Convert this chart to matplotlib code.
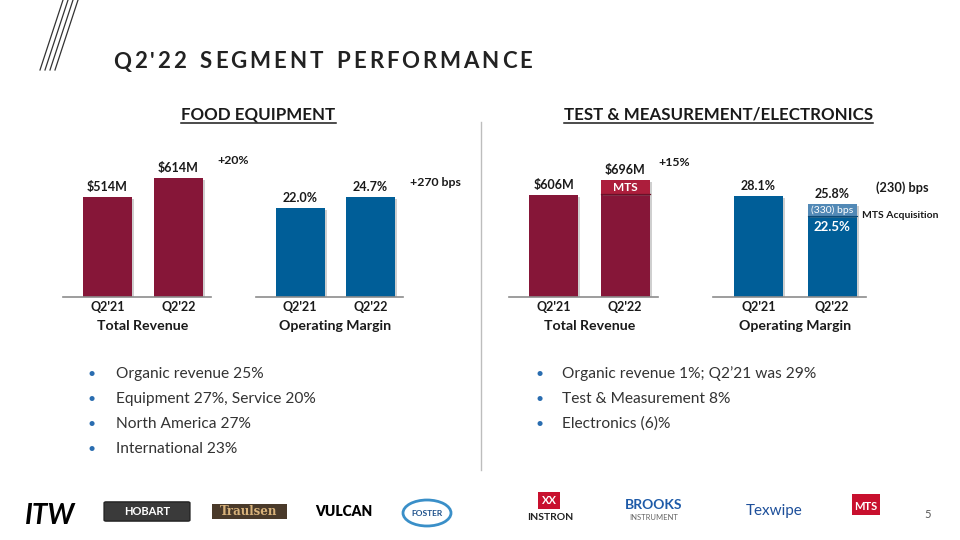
import matplotlib
matplotlib.use("Agg")
import matplotlib.pyplot as plt
from matplotlib import patheffects as pe
from matplotlib.patches import FancyBboxPatch, Ellipse, Rectangle
from matplotlib.lines import Line2D

plt.rcParams['font.family'] = ['Lato', 'DejaVu Sans']

# ---- data ----
quarters = ["Q2'21", "Q2'22"]
food_revenue = [514, 614]          # $M
food_margin = [22.0, 24.7]         # %
tm_revenue = [606, 696]            # $M
tm_revenue_mts = [0, 84]           # $M contributed by MTS acquisition
tm_margin = [28.1, 25.8]           # %
tm_margin_mts_bps = [0, 330]       # dilution from MTS acquisition

food_bullets = ["Organic revenue 25%", "Equipment 27%, Service 20%",
                "North America 27%", "International 23%"]
tm_bullets = ["Organic revenue 1%; Q2\u201921 was 29%", "Test & Measurement 8%",
              "Electronics (6)%"]

MAROON = '#861638'
MTS_RED = '#AC1E3C'
BLUE = '#005E98'
LIGHT_BLUE = '#5289B6'
TXT = '#1a1a1a'

W, H = 960, 540
fig = plt.figure(figsize=(9.6, 5.4), dpi=100)


def fx(x):
    return x / W


def fy(y):
    return 1 - y / H


def ftext(x, y, s, **kw):
    kw.setdefault('color', TXT)
    kw.setdefault('va', 'center')
    return fig.text(fx(x), fy(y), s, **kw)


shadow = [pe.SimplePatchShadow(offset=(1.5, -1.5), shadow_rgbFace='#777777', alpha=0.35), pe.Normal()]

BASE = 297   # baseline pixel row
TOP = 150    # axes top pixel row


def make_axes(c0, c1, ymax_val, tallest_px):
    unit = c1 - c0
    left = c0 - 0.62 * unit
    width = 2.08 * unit
    ax = fig.add_axes([fx(left), fy(BASE), width / W, (BASE - TOP) / H])
    ax.set_xlim(-0.62, 1.46)
    ax.set_ylim(0, ymax_val * (BASE - TOP) / tallest_px)
    for s in ['top', 'right', 'left']:
        ax.spines[s].set_visible(False)
    ax.spines['bottom'].set_color('#8c8c8c')
    ax.spines['bottom'].set_linewidth(1.2)
    ax.set_yticks([])
    ax.set_xticks([0, 1])
    ax.set_xticklabels(quarters, fontsize=9, fontweight='bold', color=TXT)
    ax.tick_params(axis='x', length=0, pad=3)
    ax.patch.set_alpha(0)
    return ax, 49 / unit


def value_labels(ax, values, fmt):
    for i, v in enumerate(values):
        ax.annotate(fmt(v), (i, v), xytext=(0, 3), textcoords='offset points',
                    ha='center', va='bottom', fontsize=9, fontweight='bold', color=TXT)


def category_label(ax, s):
    ax.annotate(s, (0.5, 0), xycoords=('data', 'axes fraction'), xytext=(0, -21),
                textcoords='offset points', ha='center', va='center',
                fontsize=10.2, fontweight='bold', color=TXT)


x = [0, 1]
rev_fmt = lambda v: f"${v:.0f}M"
pct_fmt = lambda v: f"{v:.1f}%"

# Food Equipment - revenue
ax1, bw = make_axes(107.5, 178.5, max(food_revenue), 119)
bars = ax1.bar(x, food_revenue, width=bw, color=MAROON)
for b in bars:
    b.set_path_effects(shadow)
value_labels(ax1, food_revenue, rev_fmt)
category_label(ax1, 'Total Revenue')

# Food Equipment - margin
ax2, bw = make_axes(300, 370.5, max(food_margin), 100)
bars = ax2.bar(x, food_margin, width=bw, color=BLUE)
for b in bars:
    b.set_path_effects(shadow)
value_labels(ax2, food_margin, pct_fmt)
category_label(ax2, 'Operating Margin')

# T&M - revenue
ax3, bw = make_axes(553.5, 625, max(tm_revenue), 117)
organic = [t - m for t, m in zip(tm_revenue, tm_revenue_mts)]
bars = ax3.bar(x, organic, width=bw, color=MAROON)
for b in bars:
    b.set_path_effects(shadow)
bars = ax3.bar(x, tm_revenue_mts, bottom=organic, width=bw, color=MTS_RED)
for b in bars:
    b.set_path_effects(shadow)
ax3.plot([1 - bw / 2, 1 + bw / 2], [organic[1], organic[1]], color='#6a1028', lw=0.9)
ax3.text(1, organic[1] + tm_revenue_mts[1] / 2, 'MTS', ha='center', va='center',
         color='white', fontsize=8.5, fontweight='bold')
value_labels(ax3, tm_revenue, rev_fmt)
category_label(ax3, 'Total Revenue')

# T&M - margin
ax4, bw = make_axes(758.5, 832, max(tm_margin), 101)
mts_pts = [b / 100 for b in tm_margin_mts_bps]
core = [m - d for m, d in zip(tm_margin, mts_pts)]
bars = ax4.bar(x, core, width=bw, color=BLUE)
for b in bars:
    b.set_path_effects(shadow)
bars = ax4.bar(x, mts_pts, bottom=core, width=bw, color=LIGHT_BLUE)
for b in bars:
    b.set_path_effects(shadow)
ax4.plot([1 - bw / 2, 1 + bw / 2], [core[1], core[1]], color='#0b4a78', lw=0.8)
ax4.text(1, core[1] + mts_pts[1] / 2, f"({tm_margin_mts_bps[1]}) bps", ha='center', va='center',
         color='white', fontsize=7.5)
ax4.annotate(pct_fmt(core[1]), (1, core[1]), xytext=(0, -8), textcoords='offset points',
             ha='center', va='center', color='white', fontsize=9.5, fontweight='bold')
value_labels(ax4, tm_margin, pct_fmt)
category_label(ax4, 'Operating Margin')

# change annotations
ftext(217, 161, '+20%', fontsize=8.8, fontweight='bold')
ftext(410, 183, '+270 bps', fontsize=8.8, fontweight='bold')
ftext(658, 162, '+15%', fontsize=8.8, fontweight='bold')
ftext(876, 188, '(230) bps', fontsize=9.2, fontweight='bold')
ftext(862, 215, 'MTS Acquisition', fontsize=7.5, fontweight='bold')

# title with letter spacing
renderer = fig.canvas.get_renderer()


def spaced(x, y, s, track, **kw):
    for ch in s:
        t = ftext(x, y, ch, ha='left', **kw)
        bb = t.get_window_extent(renderer=renderer)
        w = bb.width if ch != ' ' else 8
        x += w + track


spaced(113, 62, "Q2'22 SEGMENT PERFORMANCE", 2.9, fontsize=16, fontweight='bold', color='#222222')

# decorative slashes
for i in range(4):
    fig.add_artist(Line2D([fx(40 + 5 * i), fx(63 + 5 * i)], [fy(70), fy(0)],
                          color='#333333', lw=0.9))

# section headers with underline
for cx, s in [(258.5, 'FOOD EQUIPMENT'), (718.5, 'TEST & MEASUREMENT/ELECTRONICS')]:
    t = ftext(cx, 114, s, ha='center', fontsize=12.2, fontweight='bold')
    bb = t.get_window_extent(renderer=renderer)
    fig.add_artist(Line2D([bb.x0 / W, bb.x1 / W], [fy(123), fy(123)], color=TXT, lw=1.1))

# separator
fig.add_artist(Line2D([fx(481), fx(481)], [fy(122), fy(470)], color='#bdbdbd', lw=1))

# bullets
for i, s in enumerate(food_bullets):
    ftext(92, 374 + 25 * i, '\u2022', fontsize=10, color='#2a6db0', ha='center')
    ftext(116, 374 + 25 * i, s, fontsize=11.2, color='#333333')
for i, s in enumerate(tm_bullets):
    ftext(540, 374 + 25 * i, '\u2022', fontsize=10, color='#2a6db0', ha='center')
    ftext(562, 374 + 25 * i, s, fontsize=11.2, color='#333333')

# logo strip (text approximations)
ftext(50, 516, 'ITW', fontsize=20, fontweight='bold', style='italic', ha='center', color='black')
fig.add_artist(FancyBboxPatch((fx(106), fy(520)), 82 / W, 17 / H,
                              boxstyle='round,pad=0.002', fc='#3a3a3a', ec='#222222', lw=1))
ftext(147, 511.5, 'HOBART', fontsize=8, fontweight='bold', ha='center', color='white')
fig.add_artist(Rectangle((fx(212), fy(519)), 75 / W, 15 / H, fc='#4a3a2a', ec='none'))
ftext(249, 511.5, 'Traulsen', fontsize=8.5, fontweight='bold', ha='center', color='#d8b27a',
      family=['DejaVu Serif'])
ftext(344, 512, 'VULCAN', fontsize=10, fontweight='heavy', ha='center', color='black')
fig.add_artist(Ellipse((fx(427), fy(513)), 48 / W, 26 / H, fc='white', ec='#3a8fc8', lw=2))
ftext(427, 513, 'FOSTER', fontsize=6, fontweight='bold', ha='center', color='#1b4f8a')
fig.add_artist(Rectangle((fx(538), fy(509)), 22 / W, 17 / H, fc='#c8102e', ec='none'))
ftext(549, 500.5, 'XX', fontsize=8, fontweight='bold', ha='center', color='white')
ftext(550, 517, 'INSTRON', fontsize=7.5, fontweight='bold', ha='center', color='#222222')
ftext(654, 505, 'BROOKS', fontsize=10, fontweight='bold', ha='center', color='#1d5aa8')
ftext(654, 517, 'INSTRUMENT', fontsize=5.5, ha='center', color='#666666')
ftext(774, 511, 'Texwipe', fontsize=11, ha='center', color='#1d4f9a')
fig.add_artist(Rectangle((fx(852), fy(515)), 28 / W, 21 / H, fc='#c8102e', ec='none'))
ftext(866, 506, 'MTS', fontsize=8, fontweight='bold', ha='center', color='white')
ftext(928, 515, '5', fontsize=8, ha='center', color='#555555')

fig.savefig('out.png', dpi=100)
